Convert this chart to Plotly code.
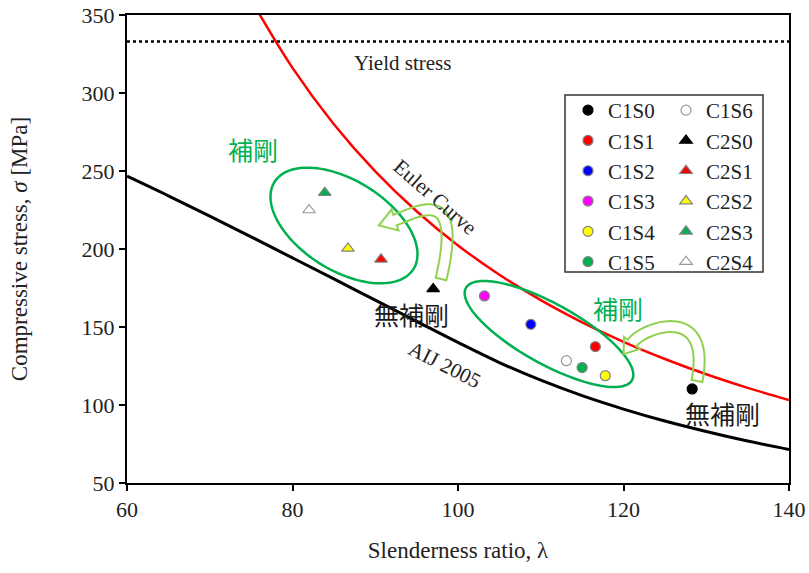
import numpy as np
import plotly.graph_objects as go

# ---------------- data ----------------
SERIES = ["C1S0", "C1S1", "C1S2", "C1S3", "C1S4", "C1S5", "C1S6",
          "C2S0", "C2S1", "C2S2", "C2S3", "C2S4"]
SLENDERNESS = [128.3, 116.6, 108.8, 103.2, 117.8, 115.0, 113.1,
               97.0, 90.7, 86.7, 83.9, 82.0]
STRESS = [110.3, 137.4, 151.7, 169.9, 118.8, 124.0, 128.4,
          174.4, 193.4, 200.4, 236.1, 225.0]

EULER_LAMBDA = [75, 80, 85, 90, 95, 100, 105, 110, 115, 120, 125, 130, 135, 140]
EULER_SIGMA = [359.7, 316.1, 280.0, 249.8, 224.2, 202.3, 183.5, 167.2, 153.0,
               140.5, 129.5, 119.7, 111.0, 103.2]

AIJ_LAMBDA = [60, 65, 70, 75, 80, 85, 90, 95, 100, 105, 110, 115, 120, 125, 130, 135, 140]
AIJ_SIGMA = [246.7, 234.1, 221.1, 207.8, 194.3, 180.8, 167.2, 153.6, 140.1,
             127.2, 115.9, 106.0, 97.4, 89.7, 83.0, 76.9, 71.5]

YIELD_STRESS = 333.0
X_RANGE = [60, 140]
Y_RANGE = [50, 350]
X_TICKS = [60, 80, 100, 120, 140]
Y_TICKS = [50, 100, 150, 200, 250, 300, 350]

# legend column of each series (first column: C1S0..C1S5, second: C1S6, C2S0..C2S4)
LEGEND_COLUMN = ["legend"] * 6 + ["legend2"] * 6

# ---------------- styles ----------------
FILL = ["black", "#ff0000", "#0000ff", "#ff00ff", "#ffff00", "#00b050", "white",
        "black", "#ff0000", "#ffff00", "#00b050", "white"]
EDGE = ["black", "#808080", "#808080", "#808080", "#808080", "#808080", "#999999",
        "black", "#808080", "#808080", "#808080", "#999999"]
SYMBOL = ["circle"] * 7 + ["triangle-up"] * 5
SERIF = "Liberation Serif, Times New Roman, serif"
CJK = "Noto Sans CJK JP"
GREEN = "#00b050"
LIGHT_GREEN = "#92d050"

W, H = 809, 573
ML, MR, MT, MB = 127, 20, 15, 90
PW, PH = W - ML - MR, H - MT - MB


def to_data(px, py):
    x = X_RANGE[0] + (px - ML) / PW * (X_RANGE[1] - X_RANGE[0])
    y = Y_RANGE[1] - (py - MT) / PH * (Y_RANGE[1] - Y_RANGE[0])
    return x, y


def path_from_pixels(pts, close=True):
    s = []
    for i, (px, py) in enumerate(pts):
        x, y = to_data(px, py)
        s.append(("M" if i == 0 else "L") + f"{x:.4f},{y:.4f}")
    return " ".join(s) + (" Z" if close else "")


def ellipse_pixels(cx, cy, a, b, theta_deg, n=120):
    th = np.radians(theta_deg)
    phi = np.linspace(0, 2 * np.pi, n)
    xs = cx + a * np.cos(phi) * np.cos(th) - b * np.sin(phi) * np.sin(th)
    ys = cy + a * np.cos(phi) * np.sin(th) + b * np.sin(phi) * np.cos(th)
    return list(zip(xs, ys))


def curved_arrow_pixels(P0, P1, P2, P3, half_w, head_w, head_len, n=40):
    P = [np.array(p, float) for p in (P0, P1, P2, P3)]
    t = np.linspace(0, 1, n)[:, None]
    pts = ((1 - t) ** 3) * P[0] + 3 * t * (1 - t) ** 2 * P[1] + 3 * t ** 2 * (1 - t) * P[2] + t ** 3 * P[3]
    d = 3 * (1 - t) ** 2 * (P[1] - P[0]) + 6 * t * (1 - t) * (P[2] - P[1]) + 3 * t ** 2 * (P[3] - P[2])
    d = d / np.linalg.norm(d, axis=1)[:, None]
    nrm = np.column_stack([-d[:, 1], d[:, 0]])
    left = pts + half_w * nrm
    right = pts - half_w * nrm
    end, tan, nn = pts[-1], d[-1], nrm[-1]
    head = [end + head_w * nn, end + head_len * tan, end - head_w * nn]
    poly = list(left) + head + list(right[::-1])
    return [(p[0], p[1]) for p in poly]


fig = go.Figure()

# yield stress line
fig.add_trace(go.Scatter(x=X_RANGE, y=[YIELD_STRESS, YIELD_STRESS], mode="lines",
                         line=dict(color="black", width=2.5, dash="dot"),
                         showlegend=False, hoverinfo="skip"))
# Euler curve
fig.add_trace(go.Scatter(x=EULER_LAMBDA, y=EULER_SIGMA, mode="lines",
                         line=dict(color="#ff0000", width=2.5, shape="spline"),
                         showlegend=False, hoverinfo="skip"))
# AIJ 2005 curve
fig.add_trace(go.Scatter(x=AIJ_LAMBDA, y=AIJ_SIGMA, mode="lines",
                         line=dict(color="black", width=3, shape="spline"),
                         showlegend=False, hoverinfo="skip"))

# specimens
for i, name in enumerate(SERIES):
    fig.add_trace(go.Scatter(
        x=[SLENDERNESS[i]], y=[STRESS[i]], mode="markers", name=name,
        marker=dict(symbol=SYMBOL[i], size=10 if SYMBOL[i] == "circle" else 11,
                    color=FILL[i], line=dict(color=EDGE[i], width=1.2)),
        legend=LEGEND_COLUMN[i]))

shapes = []
# ellipses
for (cx, cy, a, b, th) in [(344, 225.5, 82, 45, 32), (549, 334, 95, 30, 29)]:
    shapes.append(dict(type="path", xref="x", yref="y",
                       path=path_from_pixels(ellipse_pixels(cx, cy, a, b, th)),
                       line=dict(color=GREEN, width=2.5), layer="above"))
# curved arrows
arrows = [
    ((441, 279), (464, 182), (416, 213), (395, 220), 5.5, 11, 17),
    ((697, 381), (712, 303), (644, 327), (632, 343), 5.5, 10, 14),
]
for P0, P1, P2, P3, hw, hdw, hl in arrows:
    shapes.append(dict(type="path", xref="x", yref="y",
                       path=path_from_pixels(curved_arrow_pixels(P0, P1, P2, P3, hw, hdw, hl)),
                       line=dict(color=LIGHT_GREEN, width=2), layer="above"))
# legend box
shapes.append(dict(type="rect", xref="paper", yref="paper",
                   x0=(565 - ML) / PW, x1=(763 - ML) / PW,
                   y0=1 - (272 - MT) / PH, y1=1 - (95 - MT) / PH,
                   line=dict(color="#333333", width=1.5), fillcolor="white", layer="below"))

annotations = []


def add_text(px, py, text, size, color, family, angle=0):
    x, y = to_data(px, py)
    annotations.append(dict(x=x, y=y, xref="x", yref="y", text=text, showarrow=False,
                            textangle=angle, xanchor="center", yanchor="middle",
                            font=dict(size=size, color=color, family=family)))


add_text(402, 63, "Yield stress", 21, "#222222", SERIF)
add_text(435, 197, "Euler Curve", 21, "#222222", SERIF, 41)
add_text(445, 365, "AIJ 2005", 21, "#222222", SERIF, 27)
add_text(253, 149, "補剛", 25, GREEN, CJK)
add_text(618, 308, "補剛", 25, GREEN, CJK)
add_text(411, 314, "無補剛", 25, "#1a1a1a", CJK)
add_text(722, 413, "無補剛", 25, "#1a1a1a", CJK)

legend_common = dict(xanchor="left", yanchor="top", bgcolor="rgba(0,0,0,0)", borderwidth=0,
                     font=dict(family=SERIF, size=21, color="#222222"),
                     itemwidth=30, tracegroupgap=0, traceorder="normal")

fig.update_layout(
    width=W, height=H,
    margin=dict(l=ML, r=MR, t=MT, b=MB, pad=0, autoexpand=False),
    paper_bgcolor="white", plot_bgcolor="white",
    shapes=shapes, annotations=annotations,
    legend=dict(x=(568 - ML) / PW, y=1 - (90 - MT) / PH, **legend_common),
    legend2=dict(x=(666 - ML) / PW, y=1 - (90 - MT) / PH, **legend_common),
    xaxis=dict(range=X_RANGE, tickvals=X_TICKS, showgrid=False, zeroline=False,
               showline=True, linecolor="black", linewidth=2, mirror=True,
               ticks="outside", ticklen=6, tickwidth=2, tickcolor="black", automargin=False,
               tickfont=dict(family=SERIF, size=22, color="#222222"),
               title=dict(text="Slenderness ratio, λ", standoff=20,
                          font=dict(family=SERIF, size=23, color="#222222"))),
    yaxis=dict(range=Y_RANGE, tickvals=Y_TICKS, showgrid=False, zeroline=False,
               showline=True, linecolor="black", linewidth=2, mirror=True,
               ticks="outside", ticklen=6, tickwidth=2, tickcolor="black", automargin=False,
               tickfont=dict(family=SERIF, size=22, color="#222222"),
               title=dict(text="Compressive stress, <i>σ</i> [MPa]", standoff=48,
                          font=dict(family=SERIF, size=23, color="#222222"))),
)

fig.write_html("out.html")
